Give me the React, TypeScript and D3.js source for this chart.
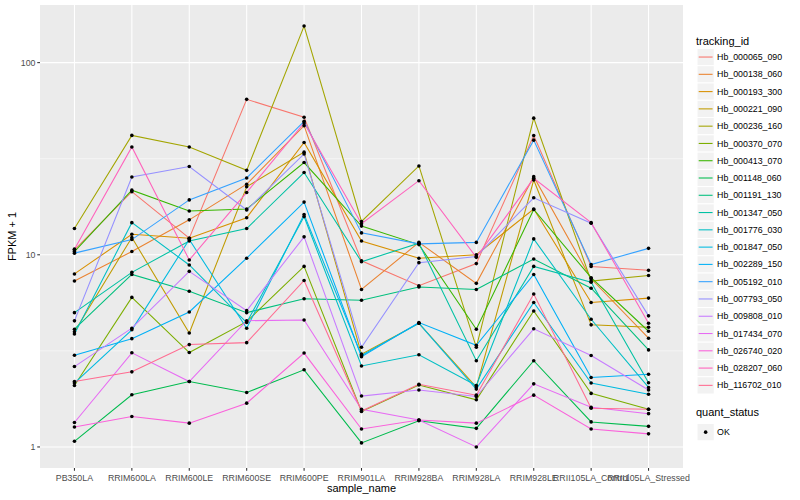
import * as d3 from "d3";
import React, { useEffect, useRef } from "react";

// samples on the x axis
const samples = [
  "PB350LA",
  "RRIM600LA",
  "RRIM600LE",
  "RRIM600SE",
  "RRIM600PE",
  "RRIM901LA",
  "RRIM928BA",
  "RRIM928LA",
  "RRIM928LE",
  "RRII105LA_Control",
  "RRII105LA_Stressed",
];

const trackingIds = [
  "Hb_000065_090",
  "Hb_000138_060",
  "Hb_000193_300",
  "Hb_000221_090",
  "Hb_000236_160",
  "Hb_000370_070",
  "Hb_000413_070",
  "Hb_001148_060",
  "Hb_001191_130",
  "Hb_001347_050",
  "Hb_001776_030",
  "Hb_001847_050",
  "Hb_002289_150",
  "Hb_005192_010",
  "Hb_007793_050",
  "Hb_009808_010",
  "Hb_017434_070",
  "Hb_026740_020",
  "Hb_028207_060",
  "Hb_116702_010",
];

// FPKM + 1, one array per gene
const hb000065_090 = [10.6, 21.3, 12.2, 64.4, 52, 9.3, 6.9, 9.0, 41.7, 8.7, 8.3];
const hb000138_060 = [7.3, 10.4, 15.2, 23.3, 47, 6.6, 11.6, 7.1, 25.5, 7.5, 3.68];
const hb000193_300 = [7.95, 12.8, 12.2, 15.6, 38.4, 11.8, 9.6, 10.0, 17.3, 5.65, 5.95];
const hb000221_090 = [3.98, 12.3, 3.92, 22.6, 34.2, 3.04, 4.4, 2.05, 24.5, 4.32, 4.2];
const hb000236_160 = [13.7, 41.8, 36.4, 27.5, 155, 14.9, 29.0, 3.3, 51.4, 7.3, 7.8];
const hb000370_070 = [2.09, 6.0, 3.1, 4.49, 8.7, 1.53, 2.1, 1.76, 5.1, 1.9, 1.57];
const hb000413_070 = [10.4, 21.7, 16.9, 17.3, 30.2, 14.1, 11.3, 4.1, 17.2, 7.6, 4.0];
const hb001148_060 = [1.07, 1.87, 2.19, 1.92, 2.52, 1.05, 1.37, 1.25, 2.81, 1.35, 1.28];
const hb001191_130 = [4.1, 7.9, 6.46, 5.0, 5.9, 5.8, 6.8, 6.6, 9.5, 6.7, 3.2];
const hb001347_050 = [5.0, 8.1, 11.8, 13.7, 26.8, 9.2, 11.5, 2.81, 8.7, 7.2, 2.16];
const hb001776_030 = [3.87, 14.7, 8.85, 4.44, 15.8, 2.64, 3.02, 2.09, 12.1, 4.62, 2.04];
const hb001847_050 = [2.15, 4.07, 12.0, 4.15, 16.2, 2.99, 4.4, 2.0, 5.65, 2.15, 1.88];
const hb002289_150 = [3.0, 3.66, 5.04, 9.6, 18.8, 2.95, 4.44, 3.38, 7.9, 2.3, 2.39];
const hb005192_010 = [10.2, 12.0, 19.3, 25.1, 49.5, 13.0, 11.4, 11.6, 39.5, 8.9, 10.8];
const hb007793_050 = [4.53, 25.4, 28.8, 17.1, 33.5, 3.3, 9.1, 9.8, 19.8, 14.6, 4.81];
const hb009808_010 = [2.62, 4.15, 8.2, 5.12, 12.4, 1.84, 1.98, 1.83, 4.12, 2.99, 1.98];
const hb017434_070 = [1.34, 3.09, 2.19, 4.54, 4.58, 1.57, 1.38, 1.0, 2.13, 1.61, 1.49];
const hb026740_020 = [1.27, 1.44, 1.33, 1.69, 3.08, 1.24, 1.38, 1.33, 1.86, 1.24, 1.17];
const hb028207_060 = [10.7, 36.4, 9.4, 21.1, 48.5, 14.5, 24.3, 9.7, 25, 14.7, 4.4];
const hb116702_010 = [2.19, 2.46, 3.41, 3.49, 7.35, 1.54, 2.12, 1.86, 6.25, 1.59, 1.57];

const seriesValues = [
  hb000065_090, hb000138_060, hb000193_300, hb000221_090, hb000236_160,
  hb000370_070, hb000413_070, hb001148_060, hb001191_130, hb001347_050,
  hb001776_030, hb001847_050, hb002289_150, hb005192_010, hb007793_050,
  hb009808_010, hb017434_070, hb026740_020, hb028207_060, hb116702_010,
];

const quantStatus = ["OK"];
const yTicks = [1, 10, 100];

// ggplot default hue palette for 20 levels
const palette = [
  "#F8766D", "#EA8331", "#D89000", "#C09B00", "#A3A500",
  "#7CAE00", "#39B600", "#00BB4E", "#00BF7D", "#00C1A3",
  "#00BFC4", "#00BAE0", "#00B0F6", "#35A2FF", "#9590FF",
  "#C77CFF", "#E76BF3", "#FA62DB", "#FF62BC", "#FF6C91",
];

const FONT = "'Liberation Sans', Arial, Helvetica, sans-serif";

const App: React.FC = () => {
  const ref = useRef<SVGSVGElement>(null);

  useEffect(() => {
    const svg = d3.select(ref.current);
    svg.selectAll("*").remove();

    const panel = { left: 40, right: 683, top: 5, bottom: 468 };

    const x = d3
      .scalePoint<string>()
      .domain(samples)
      .range([panel.left, panel.right])
      .padding(0.6);

    const all = seriesValues.flat();
    const lmin = Math.log10(d3.min(all)!);
    const lmax = Math.log10(d3.max(all)!);
    const pad = (lmax - lmin) * 0.05;
    const y = d3
      .scaleLog()
      .domain([Math.pow(10, lmin - pad), Math.pow(10, lmax + pad)])
      .range([panel.bottom, panel.top]);

    // panel background
    svg
      .append("rect")
      .attr("x", panel.left)
      .attr("y", panel.top)
      .attr("width", panel.right - panel.left)
      .attr("height", panel.bottom - panel.top)
      .attr("fill", "#EBEBEB");

    const grid = svg.append("g");
    // minor grid (half decades)
    const minor = d3.range(Math.floor(lmin - pad), Math.ceil(lmax + pad)).map((d) => Math.pow(10, d + 0.5));
    minor
      .filter((v) => y(v) >= panel.top && y(v) <= panel.bottom)
      .forEach((v) => {
        grid
          .append("line")
          .attr("x1", panel.left)
          .attr("x2", panel.right)
          .attr("y1", y(v))
          .attr("y2", y(v))
          .attr("stroke", "#FFFFFF")
          .attr("stroke-width", 0.53);
      });
    yTicks.forEach((v) => {
      grid
        .append("line")
        .attr("x1", panel.left)
        .attr("x2", panel.right)
        .attr("y1", y(v))
        .attr("y2", y(v))
        .attr("stroke", "#FFFFFF")
        .attr("stroke-width", 1.07);
    });
    samples.forEach((s) => {
      grid
        .append("line")
        .attr("x1", x(s)!)
        .attr("x2", x(s)!)
        .attr("y1", panel.top)
        .attr("y2", panel.bottom)
        .attr("stroke", "#FFFFFF")
        .attr("stroke-width", 1.07);
    });

    // lines
    const line = d3
      .line<number>()
      .x((_, i) => x(samples[i])!)
      .y((d) => y(d));

    const lines = svg.append("g");
    seriesValues.forEach((vals, k) => {
      lines
        .append("path")
        .attr("d", line(vals)!)
        .attr("fill", "none")
        .attr("stroke", palette[k])
        .attr("stroke-width", 1.07);
    });

    // points
    const pts = svg.append("g");
    seriesValues.forEach((vals) => {
      vals.forEach((v, i) => {
        pts
          .append("circle")
          .attr("cx", x(samples[i])!)
          .attr("cy", y(v))
          .attr("r", 1.8)
          .attr("fill", "#000000");
      });
    });

    // axes
    const axisCol = "#333333";
    const textCol = "#4D4D4D";
    const ax = svg.append("g").attr("font-family", FONT);
    yTicks.forEach((v) => {
      ax.append("line")
        .attr("x1", panel.left - 2.75)
        .attr("x2", panel.left)
        .attr("y1", y(v))
        .attr("y2", y(v))
        .attr("stroke", axisCol)
        .attr("stroke-width", 1.07);
      ax.append("text")
        .attr("x", panel.left - 4.5)
        .attr("y", y(v))
        .attr("dy", "0.35em")
        .attr("text-anchor", "end")
        .attr("font-size", 8.8)
        .attr("fill", textCol)
        .text(String(v));
    });
    samples.forEach((s) => {
      ax.append("line")
        .attr("x1", x(s)!)
        .attr("x2", x(s)!)
        .attr("y1", panel.bottom)
        .attr("y2", panel.bottom + 2.75)
        .attr("stroke", axisCol)
        .attr("stroke-width", 1.07);
      ax.append("text")
        .attr("x", x(s)!)
        .attr("y", panel.bottom + 12.5)
        .attr("text-anchor", "middle")
        .attr("font-size", 8.8)
        .attr("fill", textCol)
        .text(s);
    });

    ax.append("text")
      .attr("x", (panel.left + panel.right) / 2)
      .attr("y", 492)
      .attr("text-anchor", "middle")
      .attr("font-size", 11)
      .attr("fill", "#000")
      .text("sample_name");

    ax.append("text")
      .attr("transform", `translate(15.5, ${(panel.top + panel.bottom) / 2}) rotate(-90)`)
      .attr("text-anchor", "middle")
      .attr("font-size", 11)
      .attr("fill", "#000")
      .text("FPKM + 1");

    // legend: tracking_id
    const lg = svg.append("g").attr("font-family", FONT);
    const keyX = 697;
    const keySize = 17.28;
    const keyTop = 48.4;
    lg.append("text")
      .attr("x", 696)
      .attr("y", 44.5)
      .attr("font-size", 11)
      .attr("fill", "#000")
      .text("tracking_id");
    trackingIds.forEach((id, k) => {
      const ty = keyTop + k * keySize;
      lg.append("rect")
        .attr("x", keyX)
        .attr("y", ty)
        .attr("width", keySize)
        .attr("height", keySize)
        .attr("fill", "#F2F2F2")
        .attr("stroke", "#FFFFFF")
        .attr("stroke-width", 1);
      lg.append("line")
        .attr("x1", keyX + 1.7)
        .attr("x2", keyX + keySize - 1.7)
        .attr("y1", ty + keySize / 2)
        .attr("y2", ty + keySize / 2)
        .attr("stroke", palette[k])
        .attr("stroke-width", 1.07);
      lg.append("text")
        .attr("x", keyX + keySize + 2.8)
        .attr("y", ty + keySize / 2)
        .attr("dy", "0.35em")
        .attr("font-size", 8.8)
        .attr("fill", "#000")
        .text(id);
    });

    // legend: quant_status
    lg.append("text")
      .attr("x", 696)
      .attr("y", 416)
      .attr("font-size", 11)
      .attr("fill", "#000")
      .text("quant_status");
    quantStatus.forEach((q, k) => {
      const ty = 423.5 + k * keySize;
      lg.append("rect")
        .attr("x", keyX)
        .attr("y", ty)
        .attr("width", keySize)
        .attr("height", keySize)
        .attr("fill", "#F2F2F2")
        .attr("stroke", "#FFFFFF")
        .attr("stroke-width", 1);
      lg.append("circle")
        .attr("cx", keyX + keySize / 2)
        .attr("cy", ty + keySize / 2)
        .attr("r", 1.8)
        .attr("fill", "#000");
      lg.append("text")
        .attr("x", keyX + keySize + 2.8)
        .attr("y", ty + keySize / 2)
        .attr("dy", "0.35em")
        .attr("font-size", 8.8)
        .attr("fill", "#000")
        .text(q);
    });
  }, []);

  return (
    <svg
      ref={ref}
      width={800}
      height={500}
      style={{ position: "absolute", left: 0, top: 0, background: "#FFFFFF" }}
    />
  );
};

export default App;
